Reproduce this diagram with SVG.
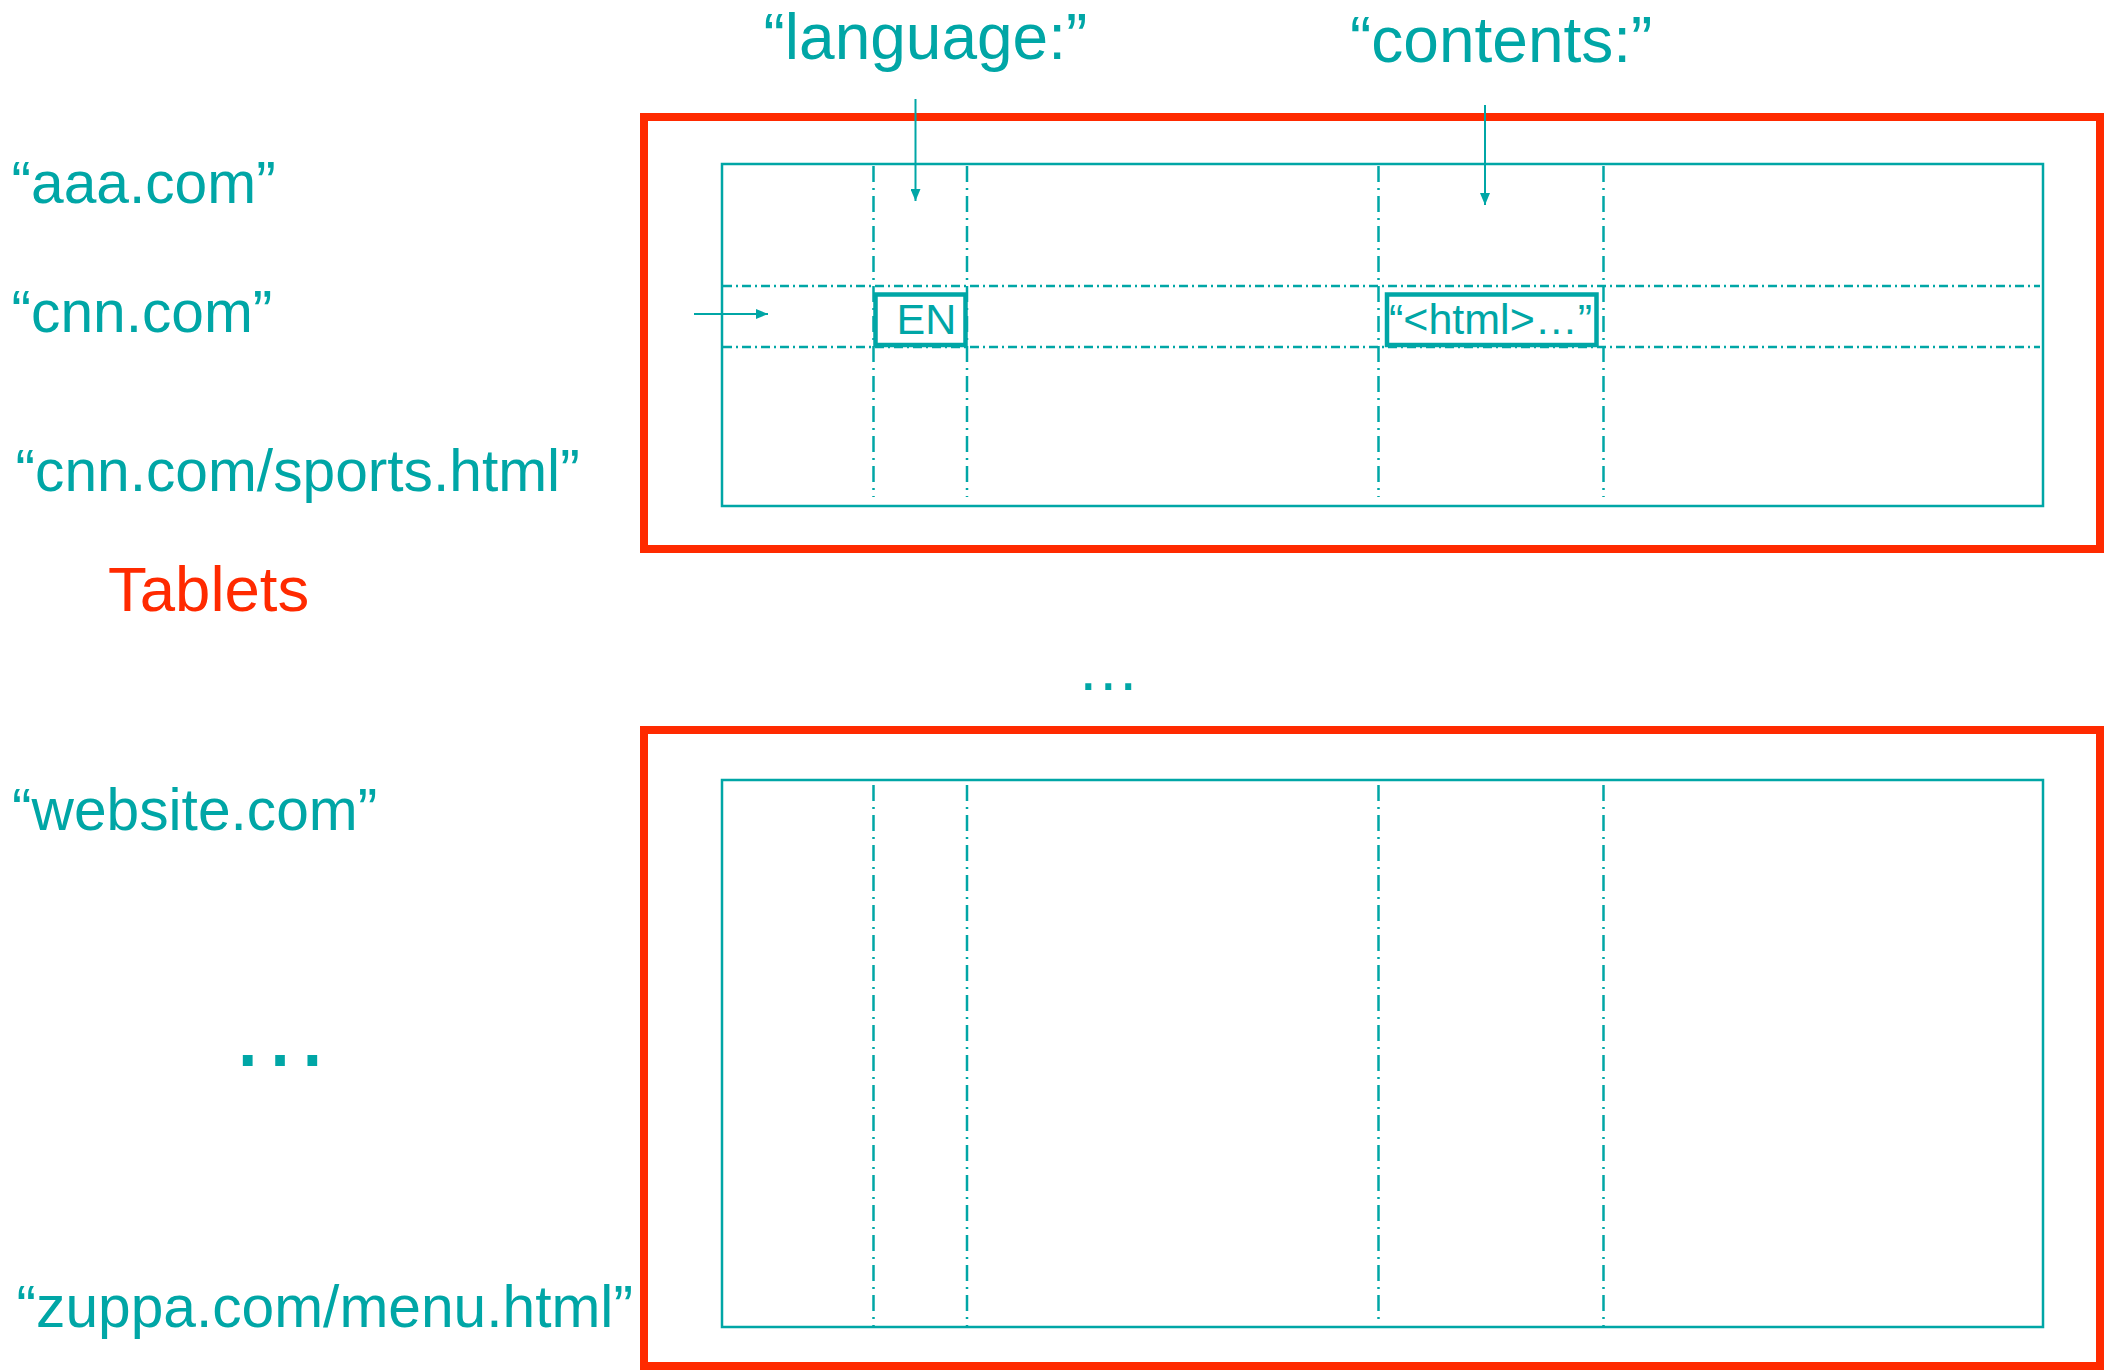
<svg xmlns="http://www.w3.org/2000/svg" width="2104" height="1370" viewBox="0 0 2104 1370">
<style>
  .t { font-family: "Liberation Sans", Arial, sans-serif; fill: #00A6A6; }
  .lbl { font-size: 58.7px; }
  .hdr { font-size: 64px; }
  .cell { font-size: 43px; }
  .red { fill: #FF2A00; }
  .tablet { fill: none; stroke: #FF2A00; stroke-width: 8; }
  .inner { fill: none; stroke: #00A6A6; stroke-width: 2.5; }
  .vdash { stroke: #00A6A6; stroke-width: 2.5; stroke-dasharray: 16 6 2 6; fill: none; }
  .hdash { stroke: #00A6A6; stroke-width: 2.5; stroke-dasharray: 9 4 2 4; fill: none; }
  .box { fill: #ffffff; stroke: #00A6A6; stroke-width: 4.5; }
  .conn { stroke: #00A6A6; stroke-width: 2; fill: none; marker-end: url(#ah); }
</style>
<defs>
  <marker id="ah" viewBox="0 0 12 10" refX="12" refY="5" markerWidth="12" markerHeight="10" markerUnits="userSpaceOnUse" orient="auto">
    <path d="M0,0 L12,5 L0,10 Z" fill="#00A6A6"/>
  </marker>
</defs>
<rect width="2104" height="1370" fill="#ffffff"/>

<g id="header-language"><text class="t hdr" x="763.5" y="59">“language:”</text></g>
<g id="header-contents"><text class="t hdr" x="1350" y="62">“contents:”</text></g>

<g id="row-aaa"><text class="t lbl" x="11.5" y="203">“aaa.com”</text></g>
<g id="row-cnn"><text class="t lbl" x="11.5" y="332">“cnn.com”</text></g>
<g id="row-sports"><text class="t lbl" x="15.5" y="491">“cnn.com/sports.html”</text></g>
<g id="label-tablets"><text class="t red" x="108" y="611" style="font-size:63.5px">Tablets</text></g>
<g id="row-website"><text class="t lbl" x="12" y="830">“website.com”</text></g>
<g id="ellipsis-rows"><text class="t" x="229" y="1066" style="font-size:102px">…</text></g>
<g id="row-zuppa"><text class="t lbl" x="16.5" y="1327">“zuppa.com/menu.html”</text></g>
<g id="ellipsis-tablets"><text class="t" x="1076.7" y="690" style="font-size:63px">…</text></g>

<g id="tablet-1">
  <rect class="tablet" x="644" y="117" width="1456" height="432"/>
  <rect class="inner" x="722" y="164" width="1321" height="342"/>
  <line class="vdash" x1="873.5" y1="166" x2="873.5" y2="497"/>
  <line class="vdash" x1="967" y1="166" x2="967" y2="497"/>
  <line class="vdash" x1="1378.5" y1="166" x2="1378.5" y2="497"/>
  <line class="vdash" x1="1603.5" y1="166" x2="1603.5" y2="497"/>
  <line class="hdash" x1="723" y1="286" x2="2040" y2="286"/>
  <line class="hdash" x1="723" y1="347" x2="2040" y2="347"/>
</g>
<g id="cell-en">
  <rect class="box" x="875.5" y="294.5" width="90" height="50.5"/>
  <text class="t cell" x="896.5" y="334">EN</text>
</g>
<g id="cell-html">
  <rect class="box" x="1387" y="294.5" width="209.5" height="50.5"/>
  <text class="t cell" x="1389" y="334">“&lt;html&gt;…”</text>
</g>

<g id="tablet-2">
  <rect class="tablet" x="644" y="730" width="1456" height="636"/>
  <rect class="inner" x="722" y="780" width="1321" height="547"/>
  <line class="vdash" x1="873.5" y1="785" x2="873.5" y2="1326"/>
  <line class="vdash" x1="967" y1="785" x2="967" y2="1326"/>
  <line class="vdash" x1="1378.5" y1="785" x2="1378.5" y2="1322"/>
  <line class="vdash" x1="1603.5" y1="785" x2="1603.5" y2="1326"/>
</g>

<g id="connectors">
  <line class="conn" x1="915.5" y1="99" x2="915.5" y2="201"/>
  <line class="conn" x1="1485" y1="105" x2="1485" y2="205"/>
  <line class="conn" x1="694" y1="314" x2="768" y2="314"/>
</g>
</svg>
